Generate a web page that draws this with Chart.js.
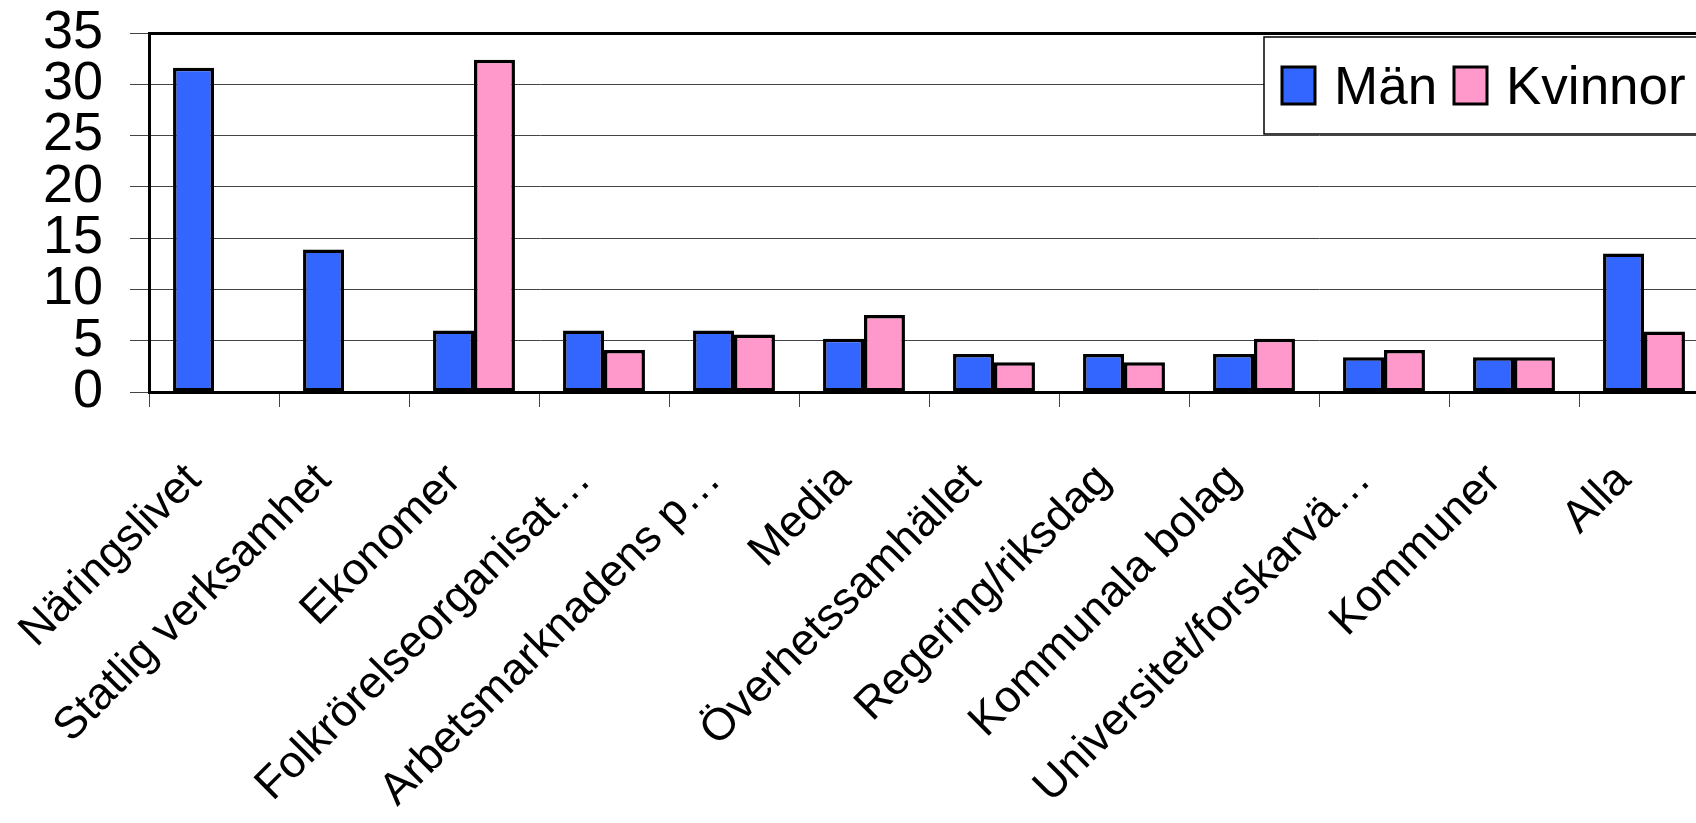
<!DOCTYPE html>
<html>
<head>
<meta charset="utf-8">
<script src="https://cdn.jsdelivr.net/npm/chart.js@4"></script>
<style>
  html, body { margin: 0; padding: 0; background: #fff; overflow: hidden; }
  #wrap { width: 1696px; height: 823px; overflow: hidden; position: relative; }
  canvas { display: block; }
</style>
</head>
<body>
<div id="wrap"><canvas id="c" width="1712" height="823"></canvas></div>
<script>
const categories = ['Näringslivet','Statlig verksamhet','Ekonomer','Folkrörelseorganisat…','Arbetsmarknadens p…','Media','Överhetssamhället','Regering/riksdag','Kommunala bolag','Universitet/forskarvä…','Kommuner','Alla'];
const menValues   = [31.6, 13.9, 6.0, 6.0, 6.0, 5.2, 3.7, 3.7, 3.7, 3.4, 3.4, 13.5];
const womenValues = [0, 0, 32.4, 4.1, 5.6, 7.5, 2.9, 2.9, 5.2, 4.1, 3.4, 5.9];
const seriesNames = ['Män', 'Kvinnor'];
const seriesColors = ['#3366FF', '#FF99CC'];
const yTicks = [0, 5, 10, 15, 20, 25, 30, 35];

const FONT = "'Liberation Sans', Arial, sans-serif";

const legendPlugin = {
  id: 'boxLegend',
  afterDraw(chart) {
    const ctx = chart.ctx;
    ctx.save();
    ctx.fillStyle = '#fff';
    ctx.fillRect(1264, 37, 500, 97);
    ctx.strokeStyle = '#000';
    ctx.lineWidth = 1.5;
    ctx.strokeRect(1264, 37, 500, 97);
    const items = [
      {sx: 1282, tx: 1334},
      {sx: 1454, tx: 1506}
    ];
    chart.data.datasets.forEach((ds, i) => {
      const it = items[i];
      ctx.fillStyle = ds.backgroundColor;
      ctx.fillRect(it.sx, 67, 33, 37);
      ctx.lineWidth = 3;
      ctx.strokeStyle = '#000';
      ctx.strokeRect(it.sx, 67, 33, 37);
      ctx.fillStyle = '#000';
      ctx.font = "53px " + FONT;
      ctx.textBaseline = 'alphabetic';
      ctx.textAlign = 'left';
      ctx.fillText(ds.label, it.tx, 104);
    });
    ctx.restore();
  }
};

new Chart(document.getElementById('c'), {
  type: 'bar',
  data: {
    labels: categories,
    datasets: [
      { label: seriesNames[0], data: menValues, backgroundColor: seriesColors[0], borderColor: '#000', borderWidth: 3.5, borderSkipped: false },
      { label: seriesNames[1], data: womenValues, backgroundColor: seriesColors[1], borderColor: '#000', borderWidth: 3.5, borderSkipped: false }
    ]
  },
  options: {
    responsive: false,
    animation: false,
    devicePixelRatio: 1,
    layout: { padding: { top: 33, right: 3, left: 0, bottom: 0 } },
    datasets: { bar: { categoryPercentage: 0.63, barPercentage: 1.0 } },
    plugins: { legend: { display: false }, tooltip: { enabled: false } },
    scales: {
      x: {
        offset: true,
        grid: { drawOnChartArea: false, drawTicks: true, tickLength: 15, color: '#444', lineWidth: 1, offset: true },
        border: { display: true, color: '#000', width: 3 },
        ticks: {
          maxRotation: 45, minRotation: 45, autoSkip: false,
          padding: 50, labelOffset: -20,
          color: '#000',
          font: { family: FONT, size: 45, lineHeight: 1.0 }
        },
        afterFit: (scale) => {
          scale.height = 823 - 392;
          scale.paddingLeft = 0; scale.paddingRight = 0;
          scale.paddingTop = 0; scale.paddingBottom = 0;
        }
      },
      y: {
        min: 0, max: 35,
        afterBuildTicks: (scale) => { scale.ticks = yTicks.map(v => ({ value: v })); },
        grid: {
          color: (c) => (c.tick && c.tick.value === 35) ? '#000' : '#444',
          lineWidth: (c) => (c.tick && c.tick.value === 35) ? 3 : 1,
          tickColor: '#444', tickWidth: 1, tickLength: 19, drawTicks: true
        },
        border: { display: true, color: '#000', width: 3 },
        ticks: {
          autoSkip: false,
          padding: 27, color: '#000',
          font: { family: FONT, size: 54, lineHeight: 1.0 }
        },
        afterFit: (scale) => {
          scale.width = 149;
          scale.paddingLeft = 0; scale.paddingRight = 0;
          scale.paddingTop = 0; scale.paddingBottom = 0;
        }
      }
    }
  },
  plugins: [legendPlugin]
});
</script>
</body>
</html>
